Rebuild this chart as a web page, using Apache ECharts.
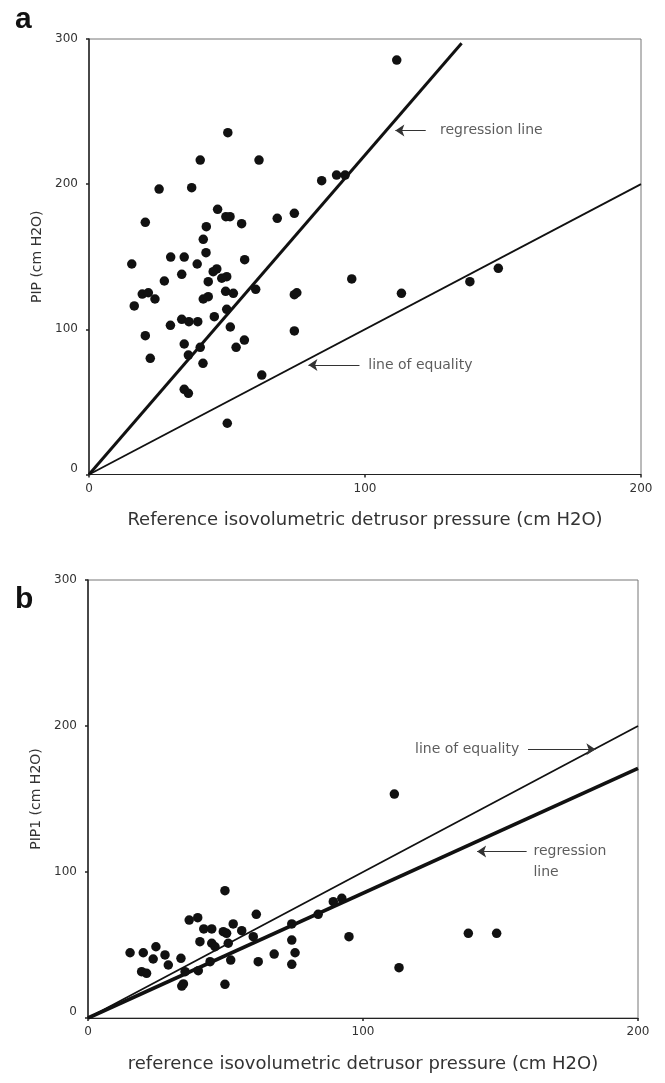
<!DOCTYPE html>
<html>
<head>
<meta charset="utf-8">
<script src="https://cdn.jsdelivr.net/npm/echarts@6/dist/echarts.min.js"></script>
<style>html,body{margin:0;padding:0;background:#fff;}#c{width:665px;height:1083px;}</style>
</head>
<body>
<div id="c"></div>
<script>
// Panel a: reference isovolumetric detrusor pressure vs PIP
var aX = [111.5,50.3,40.3,61.6,25.4,37.2,84.3,89.7,92.8,20.4,46.6,49.6,51.1,55.3,42.5,68.2,74.4,41.4,42.4,29.6,34.5,15.5,39.2,56.4,46.3,45.0,33.6,49.9,48.1,27.3,95.2,43.2,19.3,21.5,23.9,16.4,41.4,43.2,49.5,52.3,60.4,74.4,75.3,113.2,138.0,148.3,49.9,45.4,33.6,36.2,39.4,29.5,51.2,20.4,74.4,34.5,40.3,36.0,56.3,53.3,22.2,41.3,62.6,34.5,36.0,50.1];
var aY = [285.5,235.5,216.6,216.6,196.6,197.6,202.4,206.3,206.3,173.7,182.7,177.6,177.6,172.8,170.7,176.5,179.9,162.0,152.8,149.8,149.8,145.0,145.0,148.0,141.6,139.7,137.9,136.3,135.2,133.3,134.7,132.8,124.3,125.2,120.9,116.1,120.9,122.5,126.2,124.8,127.6,123.9,125.2,124.8,132.8,142.0,113.8,108.7,106.9,105.3,105.3,102.8,101.6,95.6,98.9,89.9,87.6,82.3,92.6,87.6,80.0,76.6,68.5,58.7,55.9,35.3];
// Panel b: reference isovolumetric detrusor pressure vs PIP1
var bX = [111.4,49.8,61.2,36.8,39.9,42.1,45.0,52.8,55.9,49.2,50.4,40.7,45.0,46.2,51.0,60.1,74.1,83.7,89.2,92.3,74.1,75.3,67.7,61.9,74.1,94.9,15.3,20.1,24.7,23.7,28.0,29.2,33.8,19.5,21.3,35.3,40.1,44.4,51.9,34.7,34.1,49.8,138.3,148.6,113.1];
var bY = [153.4,87.2,71.0,67.1,68.7,61.0,61.0,64.4,59.8,59.1,58.0,52.3,51.2,48.8,51.2,55.7,64.4,71.0,79.7,82.0,53.4,44.7,43.8,38.6,36.8,55.7,44.7,44.7,48.8,40.4,43.2,36.3,40.9,31.7,30.6,31.7,32.4,38.6,39.7,23.3,21.9,23.1,58.0,58.0,34.5];
// Lines (endpoints in data units)
var regA = [[0, 0], [135, 297]];
var eqLine = [[0, 0], [200, 200]];
var regB = [[0, 0], [200, 171]];
// Axis ranges
var xTicks = [0, 100, 200];
var yTicks = [0, 100, 200, 300];
// Annotations
var annA = [{text: 'regression line', at: [127, 237], arrow: [[122, 237], [111, 237]]},
            {text: 'line of equality', at: [101, 75.4], arrow: [[98, 75.4], [79.5, 75.4]]}];
var annB = [{text: 'line of equality', at: [157, 184], arrow: [[160, 184], [184.5, 184]], right: true},
            {text: 'regression\nline', at: [161.8, 107], arrow: [[159.5, 114], [141.5, 114]]}];

function zip(xs, ys) { return xs.map(function (x, i) { return [x, ys[i]]; }); }

var FONT = 'DejaVu Sans';
function xAxis(idx, name) {
  return {
    gridIndex: idx, type: 'value', min: xTicks[0], max: xTicks[xTicks.length - 1], interval: 100,
    name: name, nameLocation: 'middle', nameGap: 37,
    nameTextStyle: {fontFamily: FONT, fontSize: 18, color: '#333'},
    axisLine: {show: true, onZero: false, lineStyle: {color: '#222', width: 1.2}},
    axisTick: {show: true, length: 3, lineStyle: {color: '#222', width: 1.5}},
    axisLabel: {fontFamily: FONT, fontSize: 12, color: '#333', margin: 8},
    splitLine: {show: false}
  };
}
function yAxis(idx, name) {
  return {
    gridIndex: idx, type: 'value', min: yTicks[0], max: yTicks[yTicks.length - 1], interval: 100,
    name: name, nameLocation: 'middle', nameGap: 41,
    nameTextStyle: {fontFamily: FONT, fontSize: 14, color: '#333'},
    axisLine: {show: true, onZero: false, lineStyle: {color: '#222', width: 1.5}},
    axisTick: {show: true, length: 3, lineStyle: {color: '#222', width: 1.5}},
    axisLabel: {fontFamily: FONT, fontSize: 12, color: '#333', margin: 11, verticalAlignMinLabel: 'bottom'},
    splitLine: {show: false}
  };
}
function lineSeries(idx, data, w) {
  return {type: 'line', xAxisIndex: idx, yAxisIndex: idx, data: data, symbol: 'none',
    lineStyle: {color: '#111', width: w}, z: 3, silent: true};
}
function scatterSeries(idx, xs, ys) {
  return {type: 'scatter', xAxisIndex: idx, yAxisIndex: idx, data: zip(xs, ys), symbolSize: 9.5,
    itemStyle: {color: '#111', opacity: 1}, z: 4};
}
function annSeries(idx, anns) {
  var out = [];
  out.push({type: 'scatter', xAxisIndex: idx, yAxisIndex: idx, symbolSize: 1, z: 5,
    itemStyle: {color: 'transparent'},
    data: anns.map(function (a) {
      return {value: a.at, label: {show: true, formatter: a.text, position: a.right ? 'left' : 'right', distance: 0,
        fontFamily: FONT, fontSize: 14, color: '#333', lineHeight: 21, align: a.right ? 'right' : 'left'}};
    })});
  out.push({type: 'lines', coordinateSystem: 'cartesian2d', xAxisIndex: idx, yAxisIndex: idx, z: 5,
    polyline: false, symbol: ['none', 'arrow'], symbolSize: [5, 9],
    lineStyle: {color: '#333', width: 1, opacity: 1},
    data: anns.map(function (a) { return {coords: a.arrow}; })});
  return out;
}

var chart = echarts.init(document.getElementById('c'), null, {renderer: 'canvas'});
chart.setOption({
  animation: false,
  backgroundColor: '#fff',
  grid: [
    {left: 89, top: 39, width: 552, height: 435.5, show: true, borderColor: '#777', borderWidth: 1},
    {left: 88, top: 580, width: 550, height: 438, show: true, borderColor: '#777', borderWidth: 1}
  ],
  title: [
    {text: 'a', left: 10, top: 0, textStyle: {fontFamily: 'Liberation Sans', fontWeight: 'bold', fontSize: 30, color: '#111'}},
    {text: 'b', left: 10, top: 580, textStyle: {fontFamily: 'Liberation Sans', fontWeight: 'bold', fontSize: 30, color: '#111'}}
  ],
  xAxis: [xAxis(0, 'Reference isovolumetric detrusor pressure (cm H2O)'), xAxis(1, 'reference isovolumetric detrusor pressure (cm H2O)')],
  yAxis: [yAxis(0, 'PIP (cm H2O)'), yAxis(1, 'PIP1 (cm H2O)')],
  series: [
    scatterSeries(0, aX, aY),
    lineSeries(0, regA, 3),
    lineSeries(0, eqLine, 1.8),
    scatterSeries(1, bX, bY),
    lineSeries(1, eqLine, 1.8),
    lineSeries(1, regB, 3.6)
  ].concat(annSeries(0, annA)).concat(annSeries(1, annB))
});
</script>
</body>
</html>
